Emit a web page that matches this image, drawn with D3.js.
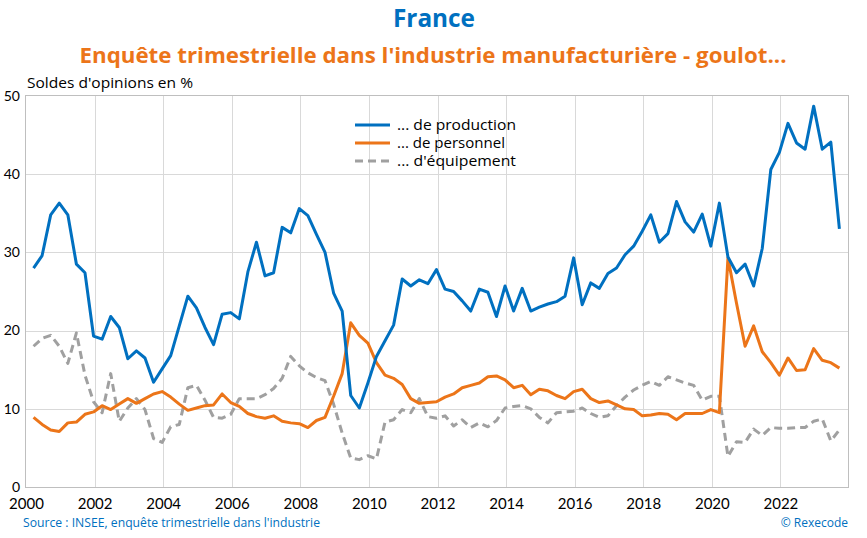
<!DOCTYPE html>
<html>
<head>
<meta charset="utf-8">
<script src="https://cdn.jsdelivr.net/npm/d3@7"></script>
<style>
  body { margin: 0; background: #fff; }
  svg { display: block; font-family: "Open Sans", Lato, sans-serif; }
</style>
</head>
<body>
<svg id="graph" width="867" height="538"></svg>
<script>
// trimestres 2000T1 -> 2023T3
var firstYear = 2000;
var yearTicks = [2000, 2002, 2004, 2006, 2008, 2010, 2012, 2014, 2016, 2018, 2020, 2022];
var valueTicks = [0, 10, 20, 30, 40, 50];
var seriesNames = ["... de production", "... de personnel", "... d'équipement"];

var production = [
  28.0, 29.6, 34.8, 36.3, 34.8, 28.5, 27.4, 19.3, 18.9, 21.8, 20.4, 16.4, 17.4, 16.5, 13.4, 15.1,
  16.8, 20.6, 24.4, 22.9, 20.4, 18.2, 22.1, 22.3, 21.5, 27.5, 31.3, 27.0, 27.4, 33.2, 32.5, 35.6,
  34.7, 32.3, 30.0, 24.8, 22.5, 11.7, 10.1, 13.3, 16.7, 18.7, 20.7, 26.6, 25.7, 26.5, 26.0, 27.8,
  25.3, 25.0, 23.8, 22.5, 25.3, 24.9, 21.8, 25.7, 22.5, 25.4, 22.5, 23.0, 23.4, 23.7, 24.4, 29.3,
  23.3, 26.1, 25.4, 27.3, 28.0, 29.7, 30.8, 32.7, 34.8, 31.3, 32.4, 36.5, 33.9, 32.6, 34.9, 30.8,
  36.3, 29.4, 27.4, 28.5, 25.7, 30.5, 40.6, 42.8, 46.5, 44.0, 43.2, 48.7, 43.2, 44.1, 33.0
];
var personnel = [
  8.9, 8.0, 7.3, 7.1, 8.2, 8.3, 9.3, 9.6, 10.4, 9.9, 10.6, 11.3, 10.7, 11.3, 11.9, 12.2,
  11.5, 10.6, 9.8, 10.1, 10.4, 10.5, 11.9, 10.8, 10.3, 9.4, 9.0, 8.8, 9.1, 8.4, 8.2, 8.1,
  7.6, 8.5, 8.9, 11.6, 14.5, 21.0, 19.4, 18.4, 15.9, 14.3, 13.9, 13.1, 11.3, 10.7, 10.8, 10.9,
  11.5, 11.9, 12.7, 13.0, 13.3, 14.1, 14.2, 13.7, 12.7, 13.0, 11.8, 12.5, 12.3, 11.7, 11.3, 12.2,
  12.5, 11.3, 10.8, 11.0, 10.5, 10.0, 9.9, 9.1, 9.2, 9.4, 9.3, 8.6, 9.4, 9.4, 9.4, 9.9,
  9.5, 29.3, 23.5, 18.0, 20.6, 17.3, 15.9, 14.3, 16.5, 14.9, 15.0, 17.7, 16.2, 15.9, 15.2
];
var equipement = [
  18.0, 19.0, 19.4, 18.0, 15.8, 19.7, 14.3, 10.9, 9.5, 14.5, 8.4, 10.1, 11.3, 9.9, 6.2, 5.7,
  7.7, 8.0, 12.7, 13.0, 11.1, 8.9, 8.8, 9.3, 11.3, 11.3, 11.3, 11.8, 12.6, 13.9, 16.7, 15.5,
  14.6, 14.0, 13.6, 10.6, 6.9, 3.7, 3.5, 4.0, 3.6, 8.3, 8.6, 9.9, 9.5, 11.3, 9.0, 8.8,
  9.1, 7.8, 8.6, 7.6, 8.2, 7.7, 8.5, 10.1, 10.3, 10.4, 10.0, 8.9, 8.2, 9.5, 9.6, 9.7,
  10.1, 9.4, 8.9, 9.1, 10.4, 11.5, 12.4, 13.0, 13.5, 13.0, 14.1, 13.7, 13.3, 13.0, 11.1, 11.6,
  11.6, 3.9, 5.8, 5.7, 7.4, 6.6, 7.6, 7.5, 7.5, 7.6, 7.6, 8.4, 8.7, 5.9, 7.3
];

var blue = "#0070c0", orange = "#ec7519", grey = "#a0a0a0";

var svg = d3.select("#graph");

var x = d3.scaleLinear().domain([2000, 2024]).range([26, 849]);
var y = d3.scaleLinear().domain([0, 50]).range([487, 96]);

// grille
svg.append("g")
    .selectAll("line")
    .data(valueTicks.slice(1, -1))
    .enter()
    .append("line")
    .attr("x1", 26).attr("x2", 849)
    .attr("y1", function(d) { return Math.round(y(d)) + 0.5; })
    .attr("y2", function(d) { return Math.round(y(d)) + 0.5; })
    .attr("stroke", "#d9d9d9");
svg.append("g")
    .selectAll("line")
    .data(yearTicks.slice(1))
    .enter()
    .append("line")
    .attr("x1", function(d) { return Math.round(x(d)) + 0.5; })
    .attr("x2", function(d) { return Math.round(x(d)) + 0.5; })
    .attr("y1", 96).attr("y2", 487)
    .attr("stroke", "#d9d9d9");

svg.append("rect")
    .attr("x", 25.5).attr("y", 95.5)
    .attr("width", 823).attr("height", 392)
    .attr("fill", "none")
    .attr("stroke", "#bfbfbf");

// axes
var xAxis = d3.axisBottom(x).tickValues(yearTicks).tickFormat(d3.format("d")).tickSize(0).tickPadding(11);
var yAxis = d3.axisLeft(y).tickValues(valueTicks).tickSize(0).tickPadding(6);

svg.append("g")
    .attr("transform", "translate(0,487)")
    .call(xAxis)
    .call(function(g) { g.select(".domain").remove(); })
    .selectAll("text")
    .style("font-family", "Lato, sans-serif")
    .style("font-size", "15px")
    .style("fill", "#000");
svg.append("g")
    .attr("transform", "translate(26,0)")
    .call(yAxis)
    .call(function(g) { g.select(".domain").remove(); })
    .selectAll("text")
    .attr("dy", "0.3em")
    .style("font-family", "Lato, sans-serif")
    .style("font-size", "14px")
    .style("fill", "#000");

// courbes
function quarterPos(i) { return firstYear + i / 4 + 0.22; }

var line = d3.line()
    .x(function(d, i) { return x(quarterPos(i)); })
    .y(function(d) { return y(d); });

var series = [
    { values: equipement, color: grey, dash: "8,5" },
    { values: personnel, color: orange, dash: null },
    { values: production, color: blue, dash: null }
];

svg.append("g")
    .selectAll("path")
    .data(series)
    .enter()
    .append("path")
    .attr("d", function(d) { return line(d.values); })
    .attr("fill", "none")
    .attr("stroke", function(d) { return d.color; })
    .attr("stroke-width", 3)
    .attr("stroke-linejoin", "round")
    .attr("stroke-dasharray", function(d) { return d.dash; });

// légende
var legendColors = [blue, orange, grey];
var legendWidths = [119, 108, 119];
var legend = svg.append("g");
legend.selectAll("line")
    .data(seriesNames)
    .enter()
    .append("line")
    .attr("x1", 355).attr("x2", 390)
    .attr("y1", function(d, i) { return 125 + i * 18; })
    .attr("y2", function(d, i) { return 125 + i * 18; })
    .attr("stroke", function(d, i) { return legendColors[i]; })
    .attr("stroke-width", 3)
    .attr("stroke-dasharray", function(d, i) { return i == 2 ? "8,5" : null; });
legend.selectAll("text")
    .data(seriesNames)
    .enter()
    .append("text")
    .attr("x", 397)
    .attr("y", function(d, i) { return 130 + i * 18; })
    .attr("textLength", function(d, i) { return legendWidths[i]; })
    .attr("lengthAdjust", "spacingAndGlyphs")
    .text(function(d) { return d; })
    .style("font-size", "15px")
    .style("fill", "#000");

// titres
svg.append("text")
    .attr("x", 434).attr("y", 27)
    .attr("text-anchor", "middle")
    .attr("textLength", 82)
    .attr("lengthAdjust", "spacingAndGlyphs")
    .text("France")
    .style("font-size", "25px")
    .style("font-weight", "bold")
    .style("fill", blue);
svg.append("text")
    .attr("x", 433).attr("y", 63)
    .attr("text-anchor", "middle")
    .attr("textLength", 707)
    .attr("lengthAdjust", "spacingAndGlyphs")
    .text("Enquête trimestrielle dans l'industrie manufacturière - goulot...")
    .style("font-size", "22px")
    .style("font-weight", "bold")
    .style("fill", orange);
svg.append("text")
    .attr("x", 27).attr("y", 88)
    .attr("textLength", 166)
    .attr("lengthAdjust", "spacingAndGlyphs")
    .text("Soldes d'opinions en %")
    .style("font-size", "15px")
    .style("fill", "#000");

svg.append("text")
    .attr("x", 23).attr("y", 527)
    .attr("textLength", 297)
    .attr("lengthAdjust", "spacingAndGlyphs")
    .text("Source : INSEE, enquête trimestrielle dans l'industrie")
    .style("font-size", "12px")
    .style("fill", blue);
svg.append("text")
    .attr("x", 848).attr("y", 527)
    .attr("text-anchor", "end")
    .text("© Rexecode")
    .style("font-size", "12px")
    .style("fill", blue);
</script>
</body>
</html>
